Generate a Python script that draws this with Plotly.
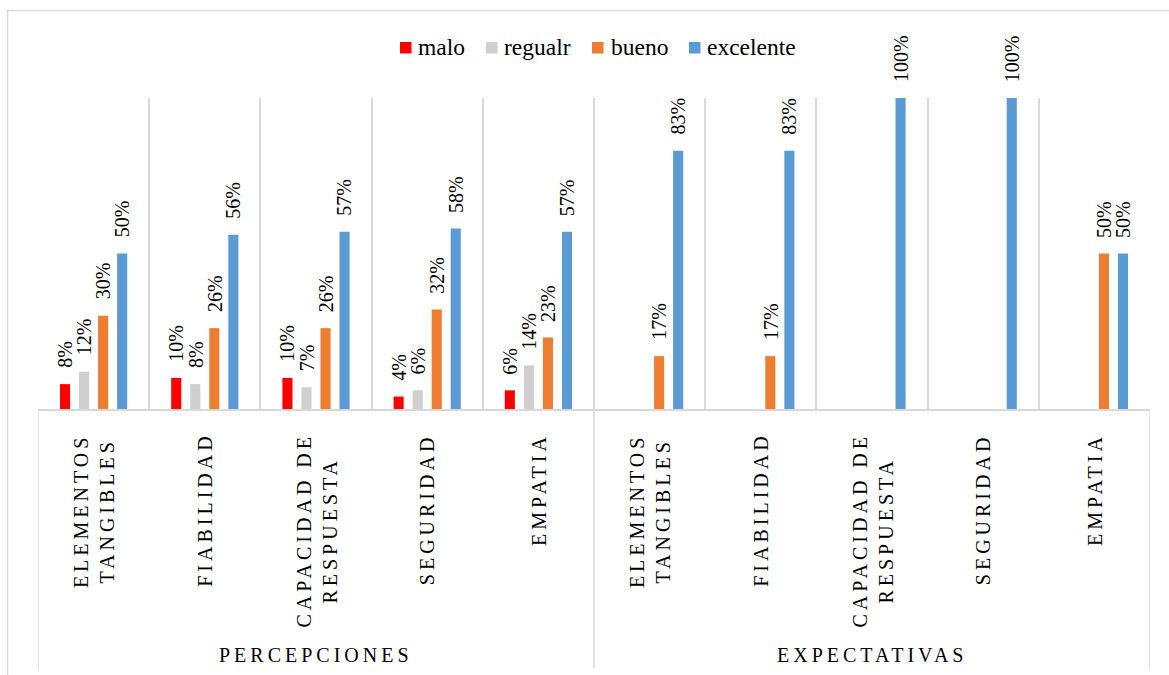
import plotly.graph_objects as go

# ---- data ----
groups = ["PERCEPCIONES", "EXPECTATIVAS"]
dimensions = ["ELEMENTOS<br>TANGIBLES", "FIABILIDAD", "CAPACIDAD DE<br>RESPUESTA",
              "SEGURIDAD", "EMPATIA"]
categories = [(g, d) for g in groups for d in dimensions]

series_names = ["malo", "regualr", "bueno", "excelente"]
malo      = [8, 10, 10, 4, 6,   0, 0, 0, 0, 0]
regualr   = [12, 8, 7, 6, 14,   0, 0, 0, 0, 0]
bueno     = [30, 26, 26, 32, 23, 17, 17, 0, 0, 50]
excelente = [50, 56, 57, 58, 57, 83, 83, 100, 100, 50]
series_values = [malo, regualr, bueno, excelente]
colors = ["#FF0000", "#D0CECE", "#ED7D31", "#5B9BD5"]

# ---- layout geometry (pixels) ----
W, H = 1169, 675
PL, PR, PT, PB = 38, 1150, 98, 409          # plot area box
FONT = "Liberation Serif, Times New Roman, DejaVu Serif, serif"
GRID = "#D9D9D9"
BARGAP, GROUPGAP = 0.315, 0.47


def px_x(px):
    return (px - PL) / (PR - PL)


def px_y(py):
    return (PB - py) / (PB - PT)


def spaced(text, ls=4):
    # letter-spaced text, one span per line
    return "<br>".join(f'<span style="letter-spacing:{ls}px">{line}</span>'
                       for line in text.split("<br>"))


xs = list(range(len(categories)))
fig = go.Figure()
for name, vals, col in zip(series_names, series_values, colors):
    fig.add_trace(go.Bar(x=xs, y=vals, name=name, marker_color=col,
                         marker_line_width=0, showlegend=False))

annotations = []
shapes = []

# value labels above each non-zero bar
slot = (1 - BARGAP) / len(series_names)
for j, vals in enumerate(series_values):
    off = (j - (len(series_names) - 1) / 2) * slot
    for i, v in enumerate(vals):
        if v:
            annotations.append(dict(
                x=i + off, y=v, xref="x", yref="y", text=f"{v}%",
                textangle=-90, showarrow=False, xanchor="center",
                yanchor="bottom", yshift=14,
                font=dict(family=FONT, size=20, color="#000000")))

# category labels (rotated) under the axis
for i, (g, d) in enumerate(categories):
    annotations.append(dict(
        x=i, y=px_y(431), xref="x", yref="paper", text=spaced(d),
        textangle=-90, showarrow=False, xanchor="center", yanchor="top",
        font=dict(family=FONT, size=20, color="#000000")))

# group labels
n = len(dimensions)
for k, g in enumerate(groups):
    annotations.append(dict(
        x=k * n + (n - 1) / 2, y=px_y(655), xref="x", yref="paper",
        text=spaced(g), showarrow=False, xanchor="center", yanchor="middle",
        font=dict(family=FONT, size=20, color="#000000")))

# long separators between groups down through the label area
for xb in [-0.5, n - 0.5, 2 * n - 0.5]:
    shapes.append(dict(type="line", xref="x", yref="paper", x0=xb, x1=xb,
                       y0=px_y(668), y1=0, line=dict(color=GRID, width=1.5)))

# legend drawn as squares + text
legend_sq = [400, 486, 592, 689]
legend_tx = [417, 503, 610, 706]
for name, col, sx, tx in zip(series_names, colors, legend_sq, legend_tx):
    shapes.append(dict(type="rect", xref="paper", yref="paper",
                       x0=px_x(sx), x1=px_x(sx + 11.5), y0=px_y(53.5), y1=px_y(42),
                       fillcolor=col, line=dict(width=0)))
    annotations.append(dict(
        x=px_x(tx - 1), y=px_y(46.5), xref="paper", yref="paper", text=name,
        showarrow=False, xanchor="left", yanchor="middle",
        font=dict(family=FONT, size=23.5, color="#000000")))

# outer chart border (left and top edges visible)
shapes.append(dict(type="rect", xref="paper", yref="paper",
                   x0=px_x(7.5), x1=px_x(1200), y0=px_y(700), y1=px_y(10.5),
                   line=dict(color=GRID, width=1.5), fillcolor="rgba(0,0,0,0)",
                   layer="below"))

fig.update_layout(
    width=W, height=H,
    margin=dict(l=PL, r=W - PR, t=PT, b=H - PB, autoexpand=False),
    paper_bgcolor="white", plot_bgcolor="white",
    font=dict(family=FONT, color="#000000"),
    barmode="group", bargap=BARGAP, bargroupgap=GROUPGAP,
    xaxis=dict(range=[-0.5, len(categories) - 0.5],
               tickvals=[i - 0.5 for i in range(len(categories) + 1)],
               showticklabels=False, ticks="", showgrid=True,
               gridcolor=GRID, gridwidth=1.5, zeroline=False,
               showline=True, linecolor=GRID, linewidth=1.5, fixedrange=True),
    yaxis=dict(range=[0, 100], showgrid=False, zeroline=False,
               showticklabels=False, ticks="", showline=False, fixedrange=True),
    annotations=annotations, shapes=shapes, showlegend=False,
)

fig.write_html("out.html")
